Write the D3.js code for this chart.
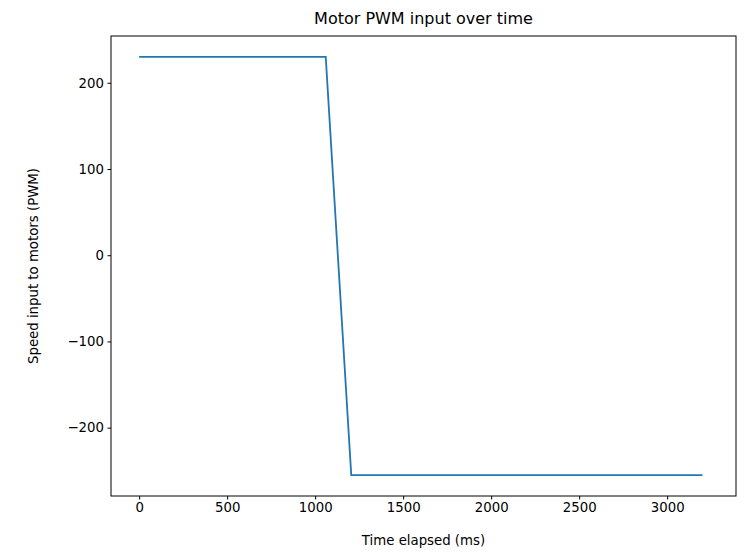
<!DOCTYPE html>
<html><head><meta charset="utf-8">
<script src="https://cdn.jsdelivr.net/npm/d3@7"></script>
<style>body{margin:0;background:#fff}text{font-family:"DejaVu Sans",sans-serif}</style>
</head><body><svg id="c" width="744" height="555"></svg>
<script>
const times = [0, 1060, 1205, 3200];
const pwm = [230, 230, -255, -255];
const xTicks = [0, 500, 1000, 1500, 2000, 2500, 3000];
const yTicks = [-200, -100, 0, 100, 200];

const L = 111, R = 736, T = 36, B = 496;
const svg = d3.select("#c");
const x = d3.scaleLinear().domain([-160, 3391]).range([L, R]);
const y = d3.scaleLinear().domain([-279.25, 254.25]).range([B, T]);

const fmt = d => d < 0 ? "\u2212" + Math.abs(d) : String(d);
const gx = svg.append("g").attr("transform", `translate(0,${B})`)
  .call(d3.axisBottom(x).tickValues(xTicks).tickSize(3.5).tickPadding(3.5).tickFormat(fmt));
const gy = svg.append("g").attr("transform", `translate(${L},0)`)
  .call(d3.axisLeft(y).tickValues(yTicks).tickSize(3.5).tickPadding(3.5).tickFormat(fmt));
[gx, gy].forEach(g => {
  g.select(".domain").remove();
  g.selectAll("text").attr("font-size", 13.3).attr("fill", "#000").style("font-family", "DejaVu Sans");
  g.selectAll("line").attr("stroke", "#000");
});
svg.append("rect").attr("x", L).attr("y", T).attr("width", R - L).attr("height", B - T)
  .attr("fill", "none").attr("stroke", "#000").attr("stroke-width", 1);

svg.append("path").datum(times.map((t, i) => [t, pwm[i]]))
  .attr("d", d3.line().x(d => x(d[0])).y(d => y(d[1])))
  .attr("fill", "none").attr("stroke", "#1f77b4").attr("stroke-width", 1.8);

svg.append("text").attr("x", (L + R) / 2).attr("y", 24).attr("text-anchor", "middle")
  .attr("font-size", 16).text("Motor PWM input over time");
svg.append("text").attr("x", (L + R) / 2).attr("y", 545).attr("text-anchor", "middle")
  .attr("font-size", 13.3).text("Time elapsed (ms)");
svg.append("text").attr("transform", `translate(38,${(T + B) / 2}) rotate(-90)`).attr("text-anchor", "middle")
  .attr("font-size", 13.3).text("Speed input to motors (PWM)");
</script></body></html>
